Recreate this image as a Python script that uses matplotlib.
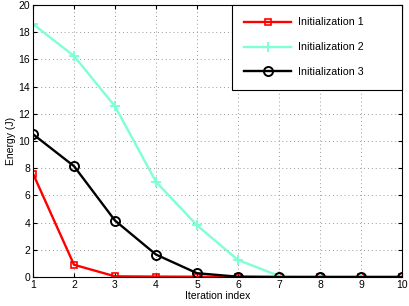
import matplotlib
matplotlib.use('Agg')
import matplotlib.pyplot as plt

iters = [1, 2, 3, 4, 5, 6, 7, 8, 9, 10]
init1 = [7.6, 0.9, 0.05, 0.03, 0.02, 0.01, 0.0, 0.0, 0.0, 0.0]
init2 = [18.6, 16.25, 12.55, 7.0, 3.8, 1.25, 0.08, 0.0, 0.0, 0.0]
init3 = [10.5, 8.15, 4.15, 1.65, 0.28, 0.02, 0.0, 0.0, 0.0, 0.0]
labels = ['Initialization 1', 'Initialization 2', 'Initialization 3']

plt.rcParams['font.family'] = ['Liberation Sans', 'DejaVu Sans']
plt.rcParams['font.size'] = 7.5

fig = plt.figure(figsize=(4.09, 3.06), dpi=100)
ax = fig.add_axes([33 / 409, 29 / 306, 369 / 409, 272 / 306])

ax.plot(iters, init1, color='red', lw=1.7, marker='s', ms=5, mfc='none', mew=1.2, label=labels[0])
ax.plot(iters, init2, color='#7fffd4', lw=1.7, marker='+', ms=7, mew=1.4, label=labels[1])
ax.plot(iters, init3, color='black', lw=1.7, marker='o', ms=6.5, mfc='none', mew=1.4, label=labels[2])

ax.set_xlim(1, 10)
ax.set_ylim(0, 20)
ax.set_xticks(iters)
ax.set_yticks(range(0, 21, 2))
ax.grid(True, linestyle=(0, (1, 3)), color='#999999', linewidth=0.7)
ax.tick_params(direction='in', top=True, right=True, length=3, pad=2)
ax.set_xlabel('Iteration index', labelpad=1)
ax.set_ylabel('Energy (J)', labelpad=2)

leg = ax.legend(loc='upper right', bbox_to_anchor=(0.539, 0, 0.461, 1), mode='expand',
                borderaxespad=0, fancybox=False, edgecolor='black', framealpha=1,
                borderpad=1.15, labelspacing=1.4, handlelength=4.4, handletextpad=0.6,
                fontsize=7.7)
leg.get_frame().set_linewidth(0.8)

fig.savefig('out.png', dpi=100)
